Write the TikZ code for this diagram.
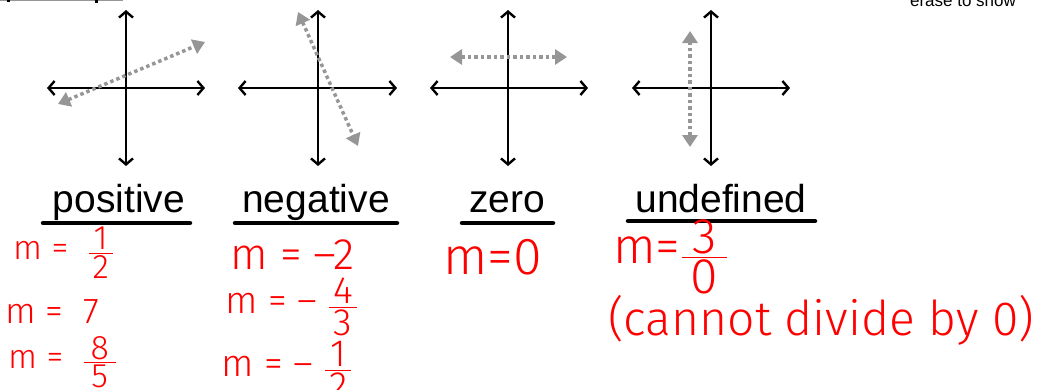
\documentclass[tikz,border=0pt]{standalone}
\usepackage{amsmath}
\usepackage{fontspec}
\setmainfont{Liberation Sans}
\newfontfamily\handfont{Fira Sans Light}
\usetikzlibrary{arrows.meta}

\definecolor{inkred}{RGB}{255,0,0}
\definecolor{dotgray}{RGB}{150,150,150}
\newcommand{\hfrac}[3][8pt]{$\genfrac{}{}{1.5pt}{}{\hbox spread #1{\hss#2\hss}}{\hbox spread #1{\hss#3\hss}}$}

\tikzset{
  axis/.style={line width=2.4pt, <->, >={Straight Barb[length=6pt,width=14pt]}},
  slopeline/.style={dotgray, line width=3.5pt, dash pattern=on 3.5pt off 3pt,
    {Triangle[length=12pt,width=15pt]}-{Triangle[length=12pt,width=15pt]}},
  kind/.style={font=\fontsize{39}{40}\selectfont, inner sep=0pt, anchor=base},
  uline/.style={line width=4.5pt, line cap=round},
  hand/.style={text=inkred, inner sep=0pt, anchor=west, font=\handfont\fontsize{#1}{#1}\selectfont}
}

\begin{document}
\begin{tikzpicture}[x=1pt, y=-1pt]
  \useasboundingbox (0,0) rectangle (1039,389);
  \clip (0,0) rectangle (1039,389);

  % Corner strip and note
  \draw[dotgray, line width=1.5pt] (0,0.5) -- (123,0.5);
  \fill (7,0) rectangle (10,2);
  \fill (95,0) rectangle (98,2.5);
  \node[font=\fontsize{17}{17}\selectfont, inner sep=0pt, anchor=base] (note) at (963,6) {erase to show};

  % Positive
  \draw[axis] (126,166) -- (126,10);
  \draw[axis] (47,88) -- (205,88);
  \draw[slopeline] (58,104) -- (205,42);
  \node[kind] (pos) at (119,212) {positive};
  \draw[uline] (43,223) -- (190,223);

  % Negative
  \draw[axis] (318,166) -- (318,10);
  \draw[axis] (238,88) -- (397,88);
  \draw[slopeline] (298,12) -- (358,146);
  \node[kind] (neg) at (316,212) {negative};
  \draw[uline] (235,223) -- (397,223);

  % Zero
  \draw[axis] (508,166) -- (508,10);
  \draw[axis] (430,88) -- (588,88);
  \draw[slopeline] (450,57) -- (567,57);
  \node[kind] (zero) at (507,212) {zero};
  \draw[uline] (462,223) -- (553,223);

  % Undefined
  \draw[axis] (711,166) -- (711,10);
  \draw[axis] (632,88) -- (790,88);
  \draw[slopeline] (690,147) -- (690,31);
  \node[kind] (undef) at (721,212) {undefined};
  \draw[uline] (628,221) -- (815,221);

  % Worked slopes
  \node[hand=34] (posa) at (13,253) {m = \ \hfrac{1}{2}};
  \node[hand=36] (posb) at (5,312) {m = \ 7};
  \node[hand=34] (posc) at (8,362) {m = \ \hfrac[14pt]{8}{5}};
  \node[hand=44] (nega) at (230,255) {m = –2};
  \node[hand=38] (negb) at (225,307) {m = – \hfrac{4}{3}};
  \node[hand=38] (negc) at (221,370) {m = – \hfrac{1}{2}};
  \node[hand=52] (zeroa) at (443,257) {m=0};
  \node[hand=50] (undefa) at (613,257) {m=\hfrac[18pt]{3}{0}};
  \node[hand=48] (undefb) at (608,320) {(cannot divide by 0)};
\end{tikzpicture}
\end{document}
